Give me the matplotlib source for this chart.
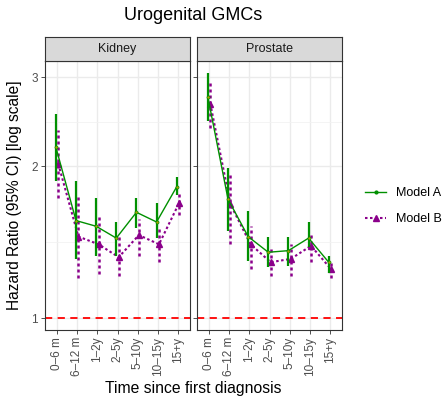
import numpy as np
import matplotlib.pyplot as plt
from matplotlib.lines import Line2D

plt.rcParams['font.family'] = ['Liberation Sans', 'DejaVu Sans']

periods = ['0\u20136 m', '6\u201312 m', '1\u20132y', '2\u20135y', '5\u201310y', '10\u201315y', '15+y']
panels = ['Kidney', 'Prostate']

# Kidney
kid_a = [2.18, 1.56, 1.52, 1.44, 1.62, 1.55, 1.82]
kid_a_lo = [1.87, 1.31, 1.33, 1.33, 1.51, 1.44, 1.75]
kid_a_hi = [2.54, 1.87, 1.73, 1.55, 1.73, 1.69, 1.90]
kid_b = [2.02, 1.45, 1.40, 1.32, 1.46, 1.40, 1.69]
kid_b_lo = [1.73, 1.20, 1.22, 1.21, 1.33, 1.29, 1.60]
kid_b_hi = [2.36, 1.74, 1.60, 1.45, 1.57, 1.52, 1.77]

# Prostate
pro_a = [2.74, 1.72, 1.45, 1.35, 1.36, 1.44, 1.29]
pro_a_lo = [2.46, 1.49, 1.30, 1.26, 1.27, 1.38, 1.23]
pro_a_hi = [3.06, 1.98, 1.63, 1.45, 1.45, 1.55, 1.33]
pro_b = [2.66, 1.68, 1.40, 1.29, 1.31, 1.39, 1.25]
pro_b_lo = [2.38, 1.40, 1.25, 1.21, 1.21, 1.29, 1.20]
pro_b_hi = [2.96, 1.92, 1.52, 1.39, 1.40, 1.48, 1.30]

data = {
    'Kidney': [(kid_a, kid_a_lo, kid_a_hi), (kid_b, kid_b_lo, kid_b_hi)],
    'Prostate': [(pro_a, pro_a_lo, pro_a_hi), (pro_b, pro_b_lo, pro_b_hi)],
}

green = '#009000'
purple = '#8B008B'
grey20 = '#333333'

fig = plt.figure(figsize=(4.45, 4.01), dpi=100)
x = np.arange(1, len(periods) + 1)

lefts = [45 / 445, 197 / 445]
w = 145 / 445
bot = 1 - 330 / 401
h = (330 - 61) / 401
strip_h = 24 / 401

for i, name in enumerate(panels):
    ax = fig.add_axes([lefts[i], bot, w, h])
    ax.set_yscale('log')
    ax.set_xlim(0.4, 7.6)
    ax.set_ylim(0.947, 3.23)
    ax.set_yticks([1, 2, 3])
    ax.set_yticks([np.sqrt(2), np.sqrt(6)], minor=True)
    ax.yaxis.set_minor_formatter(plt.NullFormatter())
    ax.set_xticks(x)
    ax.set_xticklabels(periods, rotation=90, fontsize=8.5, color='#4d4d4d')
    if i == 0:
        ax.set_yticklabels(['1', '2', '3'], fontsize=8.5, color='#4d4d4d')
    else:
        ax.set_yticklabels([])
        ax.tick_params(axis='y', length=0)
    ax.tick_params(which='minor', length=0)
    ax.tick_params(axis='both', which='major', length=3, width=0.6, color=grey20, pad=2)
    ax.grid(True, which='major', color='#ebebeb', lw=1.0)
    ax.grid(True, which='minor', axis='y', color='#f2f2f2', lw=0.6)
    ax.set_axisbelow(True)
    for s in ax.spines.values():
        s.set_color(grey20)
        s.set_linewidth(0.8)

    ax.axhline(1, color='#ff0000', ls=(0, (4, 3)), lw=1.3, zorder=2)

    (a, alo, ahi), (b, blo, bhi) = data[name]
    xa = x - 0.06
    xb = x + 0.06
    ax.vlines(xb, blo, bhi, color=purple, lw=1.8, linestyles=(0, (1.2, 1.2)), zorder=3)
    ax.plot(xb, b, color=purple, ls=(0, (1.2, 1.2)), lw=1.5, marker='^', ms=5, zorder=3)
    ax.vlines(xa, alo, ahi, color=green, lw=1.6, zorder=4)
    ax.plot(xa, a, color=green, lw=1.0, marker='o', ms=2.2, mfc='#b0a000', mec=green, mew=0.5, zorder=4)

    # facet strip
    sax = fig.add_axes([lefts[i], bot + h, w, strip_h])
    sax.set_facecolor('#d9d9d9')
    sax.set_xticks([])
    sax.set_yticks([])
    for s in sax.spines.values():
        s.set_color(grey20)
        s.set_linewidth(0.8)
    sax.text(0.5, 0.5, name, ha='center', va='center', fontsize=9, color='#1a1a1a',
             transform=sax.transAxes)

fig.text(193 / 445, 1 - 16 / 401, 'Urogenital GMCs', ha='center', va='center', fontsize=13)
fig.text(193 / 445, 1 - 389 / 401, 'Time since first diagnosis', ha='center', va='center', fontsize=11.3)
fig.text(15 / 445, bot + h / 2, 'Hazard Ratio (95% CI) [log scale]', rotation=90,
         ha='center', va='center', fontsize=11.2)

handles = [
    Line2D([], [], color=green, lw=1.0, marker='o', ms=2),
    Line2D([], [], color=purple, lw=1.5, ls=(0, (1.2, 1.2)), marker='^', ms=5),
]
fig.legend(handles, ['Model A', 'Model B'], loc='center left',
           bbox_to_anchor=(365 / 445, 1 - 206 / 401), frameon=False, fontsize=9,
           borderpad=0, borderaxespad=0, handlelength=1.7, handletextpad=0.75,
           labelspacing=1.1)

fig.savefig('out.png', dpi=100)
